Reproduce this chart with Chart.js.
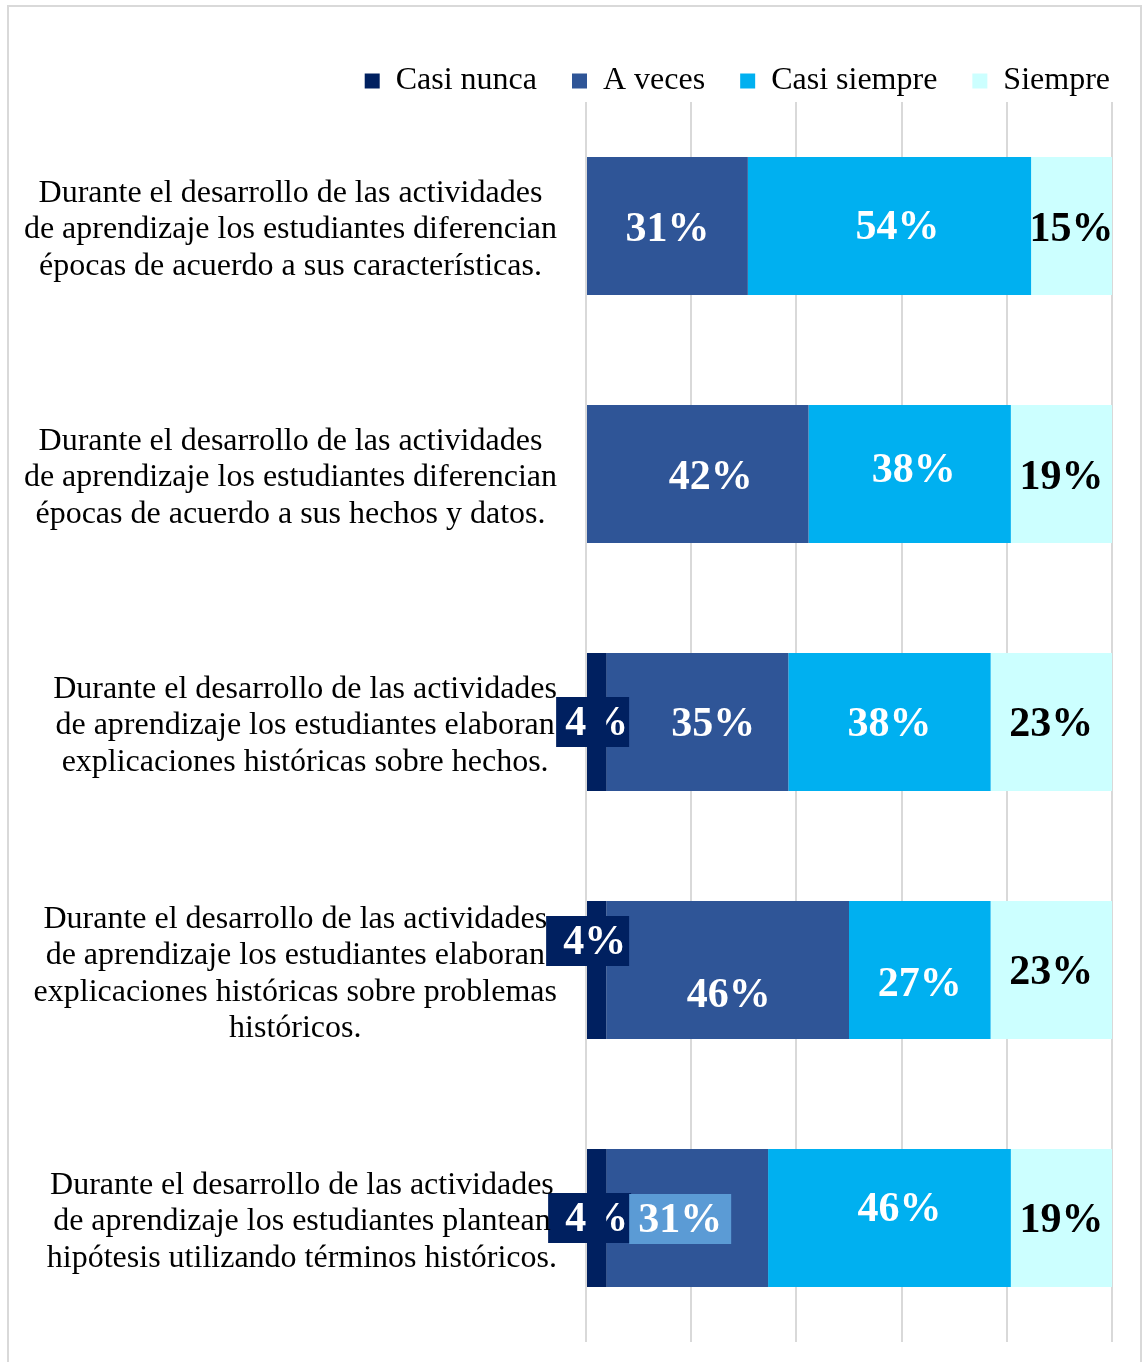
<!DOCTYPE html>
<html lang="es">
<head>
<meta charset="utf-8">
<title>Actividades de aprendizaje</title>
<script src="https://cdn.jsdelivr.net/npm/chart.js"></script>
<style>
  body { margin: 0; background: #fff; }
  .frame { position: absolute; left: 7px; top: 5px; width: 1131px; height: 1380px; border: 2px solid #d9d9d9; }
  #chart { position: absolute; left: 0; top: 0; }
</style>
</head>
<body>
<div class="frame"></div>
<canvas id="chart" width="1145" height="1362"></canvas>

<script>
// categories (one array of lines per bar)
const categories = [
  ['Durante el desarrollo de las actividades', 'de aprendizaje los estudiantes diferencian', 'épocas de acuerdo a sus características.'],
  ['Durante el desarrollo de las actividades', 'de aprendizaje los estudiantes diferencian', 'épocas de acuerdo a sus hechos y datos.'],
  ['Durante el desarrollo de las actividades', 'de aprendizaje los estudiantes elaboran', 'explicaciones históricas sobre hechos.'],
  ['Durante el desarrollo de las actividades', 'de aprendizaje los estudiantes elaboran', 'explicaciones históricas sobre problemas', 'históricos.'],
  ['Durante el desarrollo de las actividades', 'de aprendizaje los estudiantes plantean', 'hipótesis utilizando términos históricos.']
];

const seriesNames = ['Casi nunca', 'A veces', 'Casi siempre', 'Siempre'];

// percentages per series
const casiNunca   = [0, 0, 3.85, 3.85, 3.85];
const aVeces      = [30.77, 42.31, 34.62, 46.15, 30.77];
const casiSiempre = [53.85, 38.46, 38.46, 26.92, 46.15];
const siempre     = [15.38, 19.23, 23.08, 23.08, 19.23];

const xTicks = [0, 20, 40, 60, 80, 100];

const colors = ['#002060', '#2F5597', '#00B0F0', '#CCFFFF'];
const labelColors = ['#fff', '#fff', '#fff', '#000'];

// small nudges of the value labels, [dx, dy] per series and bar
const labelOffsets = [
  [[0, 0], [0, 0], [0, 0], [-2, -29], [0, 0]],
  [[0, 2], [13, 2], [16, 1], [1, 24], [-7, 1]],
  [[8, 0], [4, -5], [0, 1], [0, 13], [10, -10]],
  [[0, 2], [0, 2], [0, 1], [0, 1], [0, 1]]
];
// labels that sit on a filled box
const labelBoxes = [
  { series: 0, cat: 2, bg: '#002060', padL: 9, padR: 1 },
  { series: 0, cat: 3, bg: '#002060', padL: 17, padR: 3 },
  { series: 0, cat: 4, bg: '#002060', padL: 17, padR: 3 },
  { series: 1, cat: 4, bg: '#5B9BD5', padL: 9, padR: 9 }
];
// "Casi nunca" bars that are painted over their own label
const coveredLabels = [2, 4];

const serif = '"Liberation Serif", "Times New Roman", serif';

const labelPlugin = {
  id: 'barLabels',
  afterDatasetsDraw(chart) {
    const ctx = chart.ctx;
    ctx.save();
    ctx.font = 'bold 42px ' + serif;
    ctx.textAlign = 'center';
    ctx.textBaseline = 'middle';
    chart.data.datasets.forEach((ds, di) => {
      chart.getDatasetMeta(di).data.forEach((bar, i) => {
        const v = ds.data[i];
        if (!v) return;
        const [dx, dy] = labelOffsets[di][i];
        const x = (bar.x + bar.base) / 2 + dx;
        const y = bar.y + dy;
        const text = Math.round(v) + '%';
        const box = labelBoxes.find(b => b.series === di && b.cat === i);
        if (box) {
          const w = ctx.measureText(text).width;
          ctx.fillStyle = box.bg;
          ctx.fillRect(x - w / 2 - box.padL, y - 25, w + box.padL + box.padR, 50);
        }
        ctx.fillStyle = labelColors[di];
        ctx.fillText(text, x, y + 2);
      });
    });
    ctx.restore();
    const meta0 = chart.getDatasetMeta(0);
    coveredLabels.forEach(i => meta0.data[i].draw(ctx));
  },
  afterDraw(chart) {
    // category labels: block right-aligned to the plot, lines centred
    const ctx = chart.ctx;
    const yScale = chart.scales.y;
    ctx.save();
    ctx.font = '32px ' + serif;
    ctx.fillStyle = '#000';
    ctx.textAlign = 'center';
    ctx.textBaseline = 'middle';
    categories.forEach((lines, i) => {
      const yc = yScale.getPixelForValue(i) + 4;
      const maxW = Math.max(...lines.map(l => ctx.measureText(l).width));
      const cx = chart.chartArea.left - 29 - maxW / 2;
      lines.forEach((l, k) => {
        ctx.fillText(l, cx, yc + (k - (lines.length - 1) / 2) * 36.5);
      });
    });
    ctx.restore();
  }
};

const seriesData = [casiNunca, aVeces, casiSiempre, siempre];

new Chart(document.getElementById('chart'), {
  type: 'bar',
  data: {
    labels: categories,
    datasets: seriesNames.map((name, i) => ({
      label: name,
      data: seriesData[i],
      backgroundColor: colors[i],
      borderWidth: 0,
      barPercentage: 1,
      categoryPercentage: 0.556
    }))
  },
  options: {
    indexAxis: 'y',
    responsive: false,
    animation: false,
    layout: { padding: { top: 30, right: 0, bottom: 20, left: 0 } },
    plugins: {
      legend: {
        position: 'top',
        align: 'end',
        maxHeight: 72,
        labels: {
          font: { family: serif, size: 32 },
          color: '#000',
          boxWidth: 15,
          boxHeight: 15,
          padding: 35
        }
      },
      tooltip: { enabled: false }
    },
    scales: {
      x: {
        stacked: true,
        min: 0,
        max: 100,
        afterBuildTicks(s) { s.ticks = xTicks.map(v => ({ value: v })); },
        ticks: { display: false },
        grid: { color: '#d9d9d9', lineWidth: 2, drawTicks: false },
        border: { display: false }
      },
      y: {
        stacked: true,
        ticks: { display: false },
        grid: { display: false },
        border: { display: false },
        afterFit(s) { s.width = 586; }
      },
      yRight: {
        axis: 'y',
        position: 'right',
        ticks: { display: false },
        grid: { display: false },
        border: { display: false },
        afterFit(s) { s.width = 33; }
      }
    }
  },
  plugins: [labelPlugin]
});
</script>
</body>
</html>
